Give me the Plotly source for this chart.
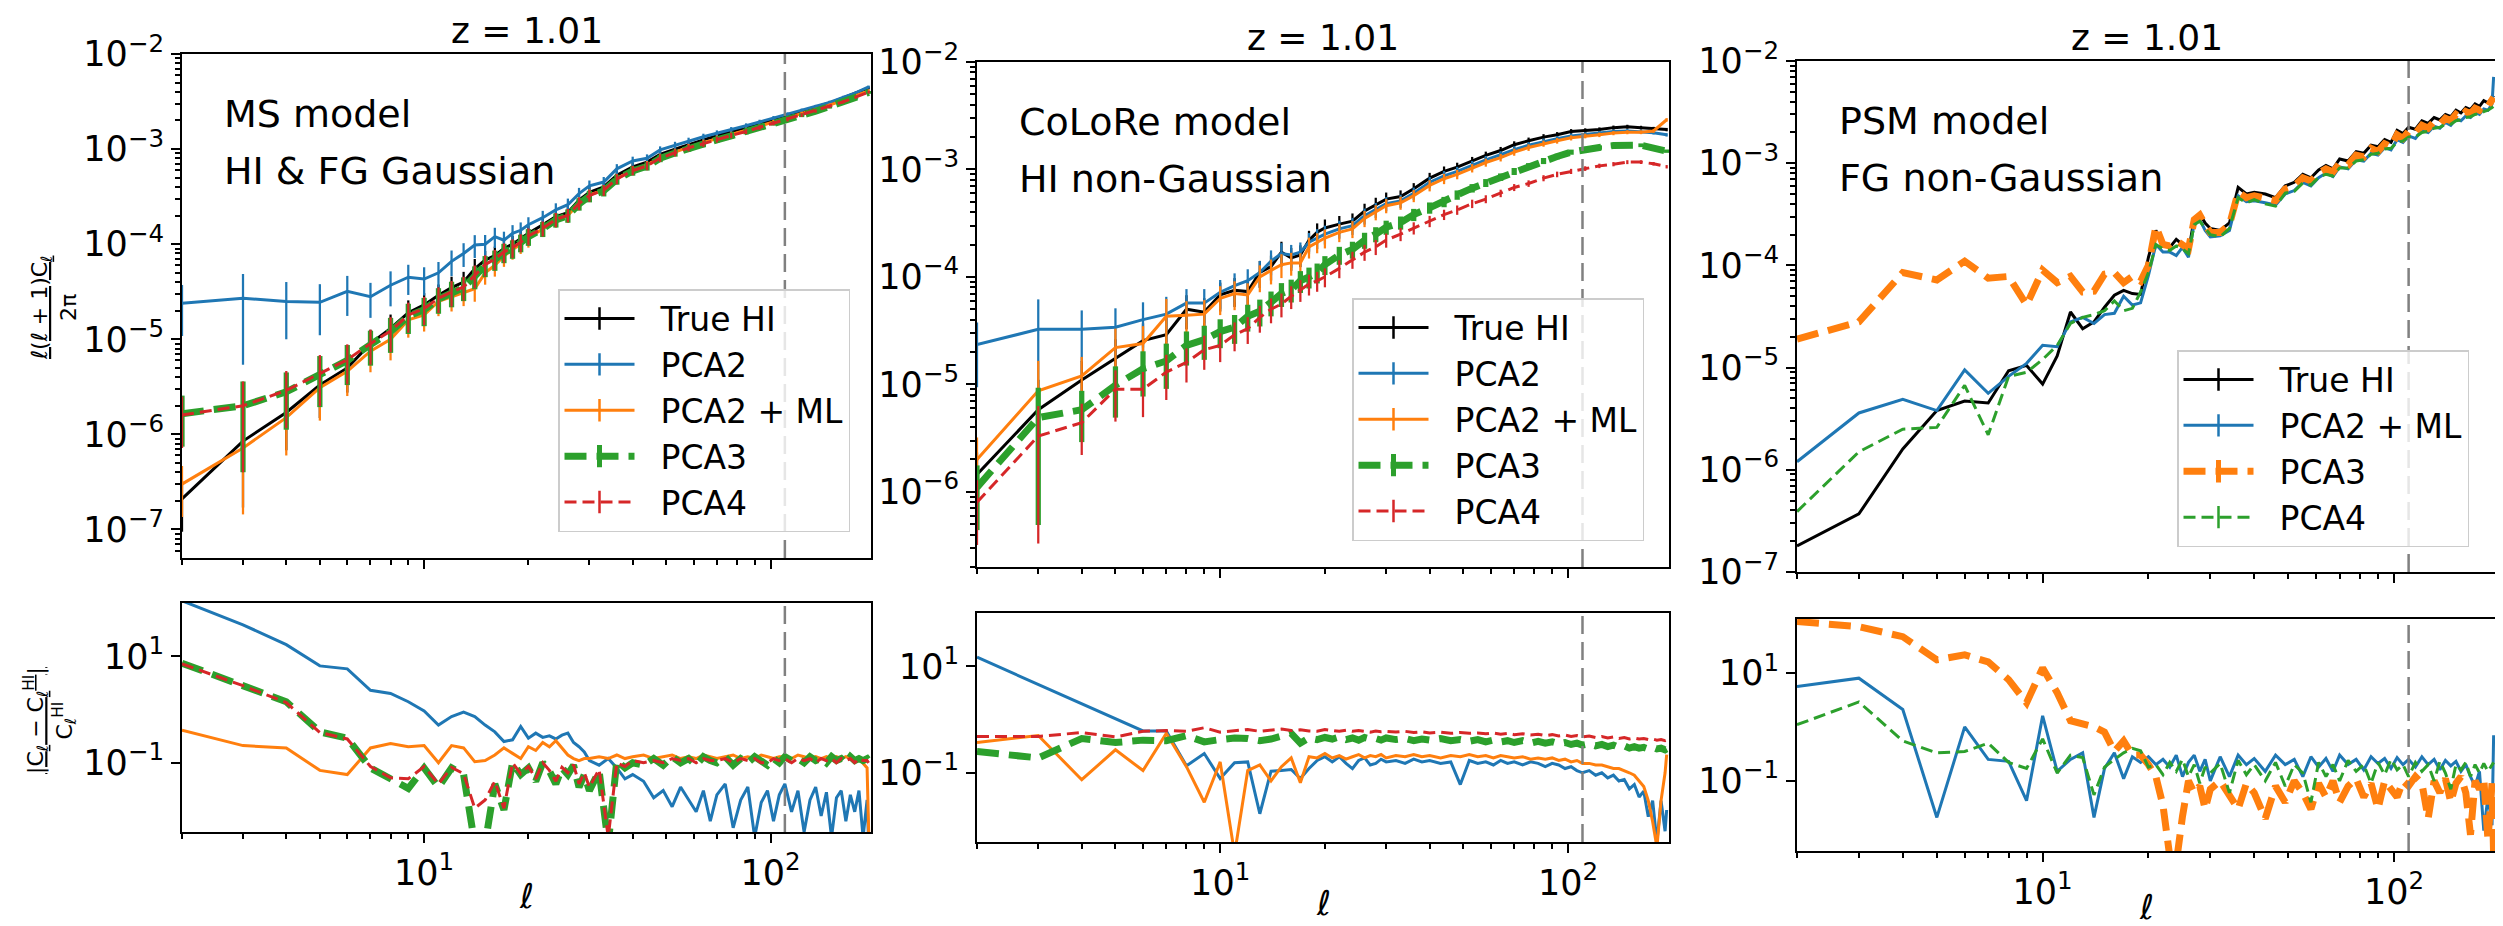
import math
import plotly.graph_objects as go

W, H = 2503, 926
FONT = "DejaVu Sans"

# ---------------- multipole grids ----------------
L_A = [2, 3, 4, 5, 6, 7, 8, 9, 10, 11,
       12, 13, 14, 15, 16, 17, 18, 19, 20,
       22, 24, 26, 28, 30,
       33, 36, 40, 44, 48,
       53, 58, 64, 70, 77,
       85, 93, 102, 112, 123,
       135, 148, 162, 176, 192]

L_B = [2, 3, 4, 5, 6, 7, 8, 9, 10, 11,
       12, 13, 14, 15, 16, 17, 18, 19, 20,
       21, 22, 23, 24, 25, 26, 27, 28, 29, 30,
       32, 34, 36, 38, 40,
       43, 46, 49, 52, 55, 58, 61, 64, 67, 70,
       74, 78, 82, 86, 90, 94, 98, 102, 106, 110,
       115, 120, 125, 130, 135, 140, 145, 150, 155, 160,
       165, 170, 175, 180, 185, 190, 192]

VLINE_L = 110

# ---------------- panel 1 (MS model) top: l(l+1)C_l/2pi ----------------
ms_true = [2.1e-7, 8.5e-7, 1.7e-6, 3.3e-6, 5.0e-6, 9.0e-6, 1.3e-5, 1.9e-5, 2.3e-5, 2.9e-5,
           3.5e-5, 4.0e-5, 5.5e-5, 6.8e-5, 7.6e-5, 9.0e-5, 1.0e-4, 1.15e-4, 1.3e-4,
           1.6e-4, 1.95e-4, 2.15e-4, 2.9e-4, 3.5e-4,
           4.0e-4, 5.3e-4, 6.5e-4, 7.3e-4, 8.8e-4,
           1.0e-3, 1.12e-3, 1.25e-3, 1.38e-3, 1.52e-3,
           1.68e-3, 1.85e-3, 2.05e-3, 2.25e-3, 2.5e-3,
           2.75e-3, 3.05e-3, 3.45e-3, 3.85e-3, 4.4e-3]
ms_pca2 = [2.4e-5, 2.7e-5, 2.5e-5, 2.45e-5, 3.2e-5, 2.8e-5, 3.7e-5, 4.5e-5, 4.3e-5, 5.0e-5,
           6.6e-5, 8.0e-5, 9.8e-5, 1.0e-4, 1.2e-4, 1.1e-4, 1.3e-4, 1.4e-4, 1.6e-4,
           1.9e-4, 2.3e-4, 2.6e-4, 3.4e-4, 4.1e-4,
           4.5e-4, 6.2e-4, 7.5e-4, 8.0e-4, 9.8e-4,
           1.1e-3, 1.22e-3, 1.35e-3, 1.47e-3, 1.6e-3,
           1.76e-3, 1.93e-3, 2.12e-3, 2.32e-3, 2.55e-3,
           2.8e-3, 3.1e-3, 3.5e-3, 3.9e-3, 4.5e-3]
ms_ml = [3.0e-7, 7.2e-7, 1.5e-6, 3.1e-6, 4.6e-6, 7.5e-6, 1.0e-5, 1.6e-5, 1.8e-5, 2.5e-5,
         2.8e-5, 3.1e-5, 3.4e-5, 5.0e-5, 6.0e-5, 7.5e-5, 8.8e-5, 1.0e-4, 1.15e-4,
         1.45e-4, 1.8e-4, 2.0e-4, 2.7e-4, 3.3e-4,
         3.7e-4, 4.9e-4, 6.0e-4, 6.8e-4, 8.2e-4,
         9.3e-4, 1.05e-3, 1.17e-3, 1.3e-3, 1.43e-3,
         1.58e-3, 1.74e-3, 1.93e-3, 2.12e-3, 2.36e-3,
         2.6e-3, 2.9e-3, 3.25e-3, 3.65e-3, 4.1e-3]
ms_pca3 = [1.65e-6, 2.0e-6, 2.8e-6, 4.3e-6, 6.0e-6, 8.8e-6, 1.2e-5, 1.75e-5, 2.05e-5, 2.65e-5,
           3.1e-5, 3.5e-5, 4.6e-5, 6.0e-5, 6.9e-5, 8.2e-5, 9.0e-5, 1.04e-4, 1.2e-4,
           1.45e-4, 1.8e-4, 2.0e-4, 2.65e-4, 3.2e-4,
           3.65e-4, 4.8e-4, 5.9e-4, 6.6e-4, 8.0e-4,
           9.1e-4, 1.02e-3, 1.13e-3, 1.25e-3, 1.38e-3,
           1.52e-3, 1.68e-3, 1.86e-3, 2.04e-3, 2.27e-3,
           2.5e-3, 2.78e-3, 3.12e-3, 3.5e-3, 3.95e-3]
ms_pca4 = [1.6e-6, 2.0e-6, 2.9e-6, 4.4e-6, 6.1e-6, 9.0e-6, 1.22e-5, 1.8e-5, 2.1e-5, 2.7e-5,
           3.15e-5, 3.55e-5, 4.7e-5, 6.1e-5, 7.0e-5, 8.3e-5, 9.2e-5, 1.05e-4, 1.22e-4,
           1.47e-4, 1.82e-4, 2.02e-4, 2.68e-4, 3.25e-4,
           3.7e-4, 4.85e-4, 5.95e-4, 6.65e-4, 8.05e-4,
           9.15e-4, 1.03e-3, 1.14e-3, 1.26e-3, 1.39e-3,
           1.53e-3, 1.69e-3, 1.87e-3, 2.05e-3, 2.28e-3,
           2.52e-3, 2.8e-3, 3.14e-3, 3.52e-3, 3.98e-3]
ms_relerr = [0.55, 0.8, 0.6, 0.55, 0.45, 0.4, 0.4, 0.35, 0.33, 0.3,
             0.3, 0.28, 0.27, 0.25, 0.24, 0.23, 0.22, 0.21, 0.2,
             0.18, 0.17, 0.16, 0.15, 0.14,
             0.13, 0.12, 0.11, 0.1, 0.09,
             0.085, 0.08, 0.075, 0.07, 0.065,
             0.06, 0.055, 0.05, 0.048, 0.045,
             0.042, 0.04, 0.038, 0.036, 0.034]

# ---------------- panel 2 (CoLoRe model) top ----------------
co_true = [1.45e-6, 5.8e-6, 1.1e-5, 1.75e-5, 2.55e-5, 2.9e-5, 5.0e-5, 4.7e-5, 6.8e-5, 7.5e-5,
           7.3e-5, 1.1e-4, 1.25e-4, 1.7e-4, 1.5e-4, 1.6e-4, 2.2e-4, 2.6e-4, 2.85e-4,
           3.1e-4, 3.3e-4, 4.1e-4, 4.7e-4, 5.3e-4,
           5.6e-4, 6.6e-4, 8.3e-4, 9.6e-4, 1.05e-3,
           1.2e-3, 1.35e-3, 1.5e-3, 1.7e-3, 1.85e-3,
           2.0e-3, 2.1e-3, 2.25e-3, 2.3e-3, 2.35e-3,
           2.45e-3, 2.5e-3, 2.45e-3, 2.4e-3, 2.35e-3]
co_pca2 = [2.35e-5, 3.25e-5, 3.25e-5, 3.4e-5, 4.0e-5, 4.5e-5, 5.7e-5, 5.7e-5, 7.2e-5, 8.3e-5,
           9.2e-5, 1.1e-4, 1.4e-4, 1.65e-4, 1.6e-4, 1.7e-4, 2.1e-4, 2.3e-4, 2.5e-4,
           2.8e-4, 3.0e-4, 3.7e-4, 4.2e-4, 4.8e-4,
           5.1e-4, 6.0e-4, 7.6e-4, 8.7e-4, 9.6e-4,
           1.1e-3, 1.23e-3, 1.37e-3, 1.53e-3, 1.68e-3,
           1.82e-3, 1.93e-3, 2.05e-3, 2.12e-3, 2.18e-3,
           2.25e-3, 2.28e-3, 2.25e-3, 2.2e-3, 2.1e-3]
co_ml = [2.0e-6, 8.7e-6, 1.2e-5, 2.2e-5, 2.4e-5, 4.3e-5, 4.4e-5, 4.5e-5, 6.3e-5, 7.0e-5,
         6.8e-5, 1.0e-4, 1.15e-4, 1.3e-4, 1.35e-4, 1.35e-4, 1.9e-4, 2.1e-4, 2.3e-4,
         2.6e-4, 2.8e-4, 3.5e-4, 4.0e-4, 4.6e-4,
         4.9e-4, 5.7e-4, 7.1e-4, 8.2e-4, 9.0e-4,
         1.03e-3, 1.16e-3, 1.29e-3, 1.45e-3, 1.6e-3,
         1.74e-3, 1.85e-3, 1.97e-3, 2.05e-3, 2.1e-3,
         2.18e-3, 2.22e-3, 2.22e-3, 2.28e-3, 2.9e-3]
co_pca3 = [1.1e-6, 4.9e-6, 5.8e-6, 9.8e-6, 1.4e-5, 1.65e-5, 2.3e-5, 2.6e-5, 3.1e-5, 3.4e-5,
           4.3e-5, 4.8e-5, 5.8e-5, 7.0e-5, 7.6e-5, 9.2e-5, 1.0e-4, 1.1e-4, 1.3e-4,
           1.6e-4, 1.8e-4, 2.2e-4, 2.5e-4, 2.9e-4,
           3.2e-4, 3.8e-4, 4.4e-4, 5.0e-4, 5.8e-4,
           6.7e-4, 7.5e-4, 8.5e-4, 9.6e-4, 1.07e-3,
           1.2e-3, 1.32e-3, 1.45e-3, 1.55e-3, 1.6e-3,
           1.67e-3, 1.7e-3, 1.68e-3, 1.58e-3, 1.48e-3]
co_pca4 = [8.0e-7, 3.3e-6, 4.4e-6, 9.0e-6, 9.0e-6, 1.3e-5, 1.6e-5, 2.1e-5, 2.3e-5, 2.9e-5,
           3.3e-5, 4.2e-5, 5.0e-5, 5.6e-5, 6.6e-5, 7.6e-5, 8.6e-5, 9.2e-5, 1.0e-4,
           1.2e-4, 1.45e-4, 1.7e-4, 1.9e-4, 2.2e-4,
           2.5e-4, 2.85e-4, 3.3e-4, 3.8e-4, 4.2e-4,
           4.8e-4, 5.3e-4, 6.0e-4, 6.8e-4, 7.4e-4,
           8.3e-4, 9.0e-4, 9.6e-4, 1.02e-3, 1.08e-3,
           1.12e-3, 1.17e-3, 1.17e-3, 1.13e-3, 1.06e-3]
co_relerr = [0.6, 0.9, 0.5, 0.5, 0.45, 0.45, 0.35, 0.35, 0.3, 0.3,
             0.28, 0.28, 0.26, 0.25, 0.24, 0.23, 0.22, 0.21, 0.2,
             0.19, 0.18, 0.17, 0.16, 0.15,
             0.14, 0.13, 0.12, 0.11, 0.1,
             0.09, 0.085, 0.08, 0.075, 0.07,
             0.065, 0.06, 0.055, 0.05, 0.048,
             0.045, 0.042, 0.04, 0.038, 0.036]

# ---------------- panel 3 (PSM model) top ----------------
psm_true = [1.8e-7, 3.7e-7, 1.6e-6, 3.8e-6, 4.7e-6, 4.5e-6, 9.3e-6, 1.05e-5, 6.9e-6, 1.3e-5,
            3.5e-5, 2.4e-5, 2.8e-5, 3.9e-5, 5.1e-5, 5.7e-5, 5.3e-5, 5.2e-5, 1.2e-4,
            2.2e-4, 1.6e-4, 1.5e-4, 1.8e-4, 1.6e-4, 1.35e-4, 2.9e-4, 3.2e-4, 2.6e-4, 2.3e-4,
            2.2e-4, 2.6e-4, 5.8e-4, 5.0e-4, 5.2e-4,
            5.0e-4, 4.6e-4, 6.0e-4, 6.5e-4, 7.8e-4, 7.2e-4, 8.6e-4, 9.5e-4, 8.8e-4, 1.1e-3,
            1.05e-3, 1.3e-3, 1.25e-3, 1.5e-3, 1.45e-3, 1.7e-3, 1.6e-3, 2.1e-3, 1.95e-3, 2.25e-3,
            2.15e-3, 2.6e-3, 2.45e-3, 2.8e-3, 2.65e-3, 3.0e-3, 2.85e-3, 3.3e-3, 3.1e-3, 3.5e-3,
            3.35e-3, 3.8e-3, 3.6e-3, 4.1e-3, 3.9e-3, 4.4e-3, 4.6e-3]
psm_ml = [1.2e-6, 3.6e-6, 4.9e-6, 3.8e-6, 9.5e-6, 5.6e-6, 8.2e-6, 1.1e-5, 1.65e-5, 1.6e-5,
          2.8e-5, 3.1e-5, 2.7e-5, 3.3e-5, 3.4e-5, 5.0e-5, 4.1e-5, 4.3e-5, 8.0e-5,
          1.6e-4, 1.35e-4, 1.35e-4, 1.25e-4, 1.5e-4, 1.2e-4, 2.6e-4, 2.8e-4, 2.2e-4, 1.9e-4,
          1.95e-4, 2.2e-4, 4.8e-4, 4.2e-4, 4.3e-4,
          4.1e-4, 3.9e-4, 5.0e-4, 5.4e-4, 6.5e-4, 6.0e-4, 7.2e-4, 8.0e-4, 7.4e-4, 9.2e-4,
          8.8e-4, 1.08e-3, 1.05e-3, 1.25e-3, 1.2e-3, 1.42e-3, 1.35e-3, 1.7e-3, 1.6e-3, 1.85e-3,
          1.75e-3, 2.1e-3, 2.0e-3, 2.3e-3, 2.2e-3, 2.5e-3, 2.35e-3, 2.7e-3, 2.6e-3, 2.9e-3,
          2.8e-3, 3.15e-3, 3.0e-3, 3.4e-3, 3.3e-3, 3.8e-3, 7.0e-3]
psm_pca3 = [1.9e-5, 2.8e-5, 8.5e-5, 7.2e-5, 1.1e-4, 7.5e-5, 7.8e-5, 4.1e-5, 9.0e-5, 6.8e-5,
            7.8e-5, 5.5e-5, 5.6e-5, 8.2e-5, 8.5e-5, 6.8e-5, 7.8e-5, 7.0e-5, 1.0e-4,
            2.4e-4, 1.6e-4, 1.55e-4, 1.75e-4, 1.55e-4, 1.45e-4, 2.8e-4, 3.1e-4, 2.5e-4, 2.1e-4,
            2.1e-4, 2.5e-4, 5.2e-4, 4.6e-4, 4.8e-4,
            4.6e-4, 4.3e-4, 5.6e-4, 6.0e-4, 7.2e-4, 6.7e-4, 8.0e-4, 8.8e-4, 8.2e-4, 1.0e-3,
            9.6e-4, 1.2e-3, 1.15e-3, 1.4e-3, 1.3e-3, 1.55e-3, 1.45e-3, 1.9e-3, 1.75e-3, 2.05e-3,
            1.95e-3, 2.35e-3, 2.2e-3, 2.55e-3, 2.4e-3, 2.75e-3, 2.6e-3, 3.0e-3, 2.8e-3, 3.2e-3,
            3.05e-3, 3.45e-3, 3.3e-3, 3.75e-3, 3.6e-3, 4.1e-3, 4.4e-3]
psm_pca4 = [3.9e-7, 1.5e-6, 2.5e-6, 2.6e-6, 6.7e-6, 2.2e-6, 8.2e-6, 9.0e-6, 1.2e-5, 1.65e-5,
            2.7e-5, 3.1e-5, 3.3e-5, 3.6e-5, 4.5e-5, 3.6e-5, 3.8e-5, 5.5e-5, 8.5e-5,
            1.6e-4, 1.45e-4, 1.4e-4, 1.55e-4, 1.45e-4, 1.3e-4, 2.5e-4, 2.7e-4, 2.3e-4, 2.0e-4,
            1.9e-4, 2.3e-4, 4.6e-4, 4.1e-4, 4.4e-4,
            4.0e-4, 3.8e-4, 5.1e-4, 5.3e-4, 6.4e-4, 6.1e-4, 7.3e-4, 7.8e-4, 7.5e-4, 9.0e-4,
            9.0e-4, 1.05e-3, 1.08e-3, 1.22e-3, 1.25e-3, 1.38e-3, 1.4e-3, 1.6e-3, 1.65e-3, 1.8e-3,
            1.8e-3, 2.0e-3, 2.05e-3, 2.2e-3, 2.25e-3, 2.4e-3, 2.4e-3, 2.6e-3, 2.65e-3, 2.8e-3,
            2.85e-3, 3.0e-3, 3.05e-3, 3.2e-3, 3.3e-3, 3.5e-3, 3.6e-3]

# ---------------- bottom row: |C_l - C_l^HI| / C_l^HI ----------------
ms_r_pca2 = [110, 39, 16.5, 6.6, 5.8, 2.3, 2.0, 1.4, 0.94, 0.51,
             0.74, 0.89, 0.74, 0.51, 0.38, 0.25, 0.27, 0.48, 0.29,
             0.36, 0.3, 0.32, 0.28, 0.33, 0.36, 0.24, 0.2, 0.16, 0.11,
             0.09, 0.12, 0.08, 0.05, 0.06,
             0.045, 0.022, 0.03, 0.015, 0.035, 0.02, 0.012, 0.03, 0.008, 0.025,
             0.04, 0.006, 0.02, 0.035, 0.004, 0.018, 0.03, 0.008, 0.025, 0.04,
             0.012, 0.03, 0.005, 0.02, 0.035, 0.01, 0.028, 0.004, 0.022, 0.03,
             0.008, 0.025, 0.012, 0.03, 0.004, 0.02, 0.003]
ms_r_ml = [0.41, 0.21, 0.19, 0.072, 0.06, 0.19, 0.23, 0.2, 0.21, 0.1,
           0.21, 0.19, 0.105, 0.11, 0.14, 0.19, 0.15, 0.12, 0.2,
           0.17, 0.24, 0.2, 0.26, 0.19, 0.14, 0.12, 0.11, 0.12, 0.12,
           0.13, 0.12, 0.14, 0.12, 0.13,
           0.14, 0.12, 0.13, 0.14, 0.12, 0.13, 0.12, 0.14, 0.13, 0.12,
           0.13, 0.14, 0.12, 0.13, 0.12, 0.14, 0.13, 0.12, 0.13, 0.13,
           0.12, 0.14, 0.13, 0.12, 0.13, 0.12, 0.13, 0.12, 0.13, 0.12,
           0.13, 0.12, 0.11, 0.12, 0.1, 0.08, 0.005]
ms_r_pca3 = [7.4, 2.9, 1.4, 0.38, 0.29, 0.08, 0.05, 0.033, 0.08, 0.035,
             0.08, 0.06, 0.003, 0.003, 0.04, 0.013, 0.1, 0.06, 0.08,
             0.045, 0.1, 0.07, 0.04, 0.08, 0.06, 0.09, 0.035, 0.06, 0.03,
             0.07, 0.003, 0.11, 0.08, 0.1,
             0.09, 0.12, 0.09, 0.13, 0.1, 0.12, 0.09, 0.13, 0.11, 0.1,
             0.13, 0.09, 0.12, 0.1, 0.13, 0.11, 0.09, 0.12, 0.1, 0.13,
             0.11, 0.12, 0.1, 0.13, 0.11, 0.12, 0.1, 0.13, 0.11, 0.12,
             0.1, 0.13, 0.11, 0.12, 0.11, 0.12, 0.11]
ms_r_pca4 = [7.2, 2.8, 1.35, 0.37, 0.28, 0.085, 0.052, 0.05, 0.085, 0.04,
             0.082, 0.062, 0.014, 0.02, 0.045, 0.014, 0.1, 0.062, 0.085,
             0.05, 0.1, 0.072, 0.045, 0.082, 0.065, 0.092, 0.04, 0.065, 0.035,
             0.075, 0.004, 0.1, 0.085, 0.11,
             0.1, 0.11, 0.1, 0.12, 0.11, 0.12, 0.1, 0.12, 0.11, 0.11,
             0.12, 0.1, 0.12, 0.11, 0.12, 0.1, 0.1, 0.12, 0.11, 0.12,
             0.1, 0.12, 0.11, 0.12, 0.1, 0.12, 0.11, 0.12, 0.1, 0.12,
             0.11, 0.12, 0.1, 0.12, 0.11, 0.11, 0.1]

co_r_pca2 = [14.8, 4.6, 2.0, 1.03, 0.61, 0.61, 0.135, 0.23, 0.078, 0.155,
             0.16, 0.017, 0.107, 0.11, 0.115, 0.078, 0.12, 0.17, 0.2,
             0.16, 0.2, 0.15, 0.12, 0.17, 0.19, 0.14, 0.15, 0.18, 0.16,
             0.17, 0.15, 0.18, 0.16, 0.17,
             0.15, 0.16, 0.06, 0.17, 0.15, 0.16, 0.14, 0.17, 0.15, 0.16,
             0.14, 0.16, 0.15, 0.13, 0.15, 0.14, 0.12, 0.13, 0.11, 0.1,
             0.11, 0.09, 0.1, 0.08, 0.09, 0.07, 0.075, 0.05, 0.06, 0.035,
             0.045, 0.015, 0.03, 0.005, 0.03, 0.008, 0.02]
co_r_ml = [0.37, 0.5, 0.074, 0.27, 0.11, 0.55, 0.13, 0.028, 0.16, 0.003,
           0.11, 0.14, 0.07, 0.13, 0.19, 0.065, 0.2, 0.19, 0.23,
           0.19, 0.21, 0.18, 0.2, 0.22, 0.19, 0.21, 0.2, 0.22, 0.19,
           0.21, 0.2, 0.22, 0.2, 0.21,
           0.19, 0.21, 0.2, 0.22, 0.2, 0.21, 0.19, 0.21, 0.2, 0.19,
           0.2, 0.18, 0.19, 0.18, 0.19, 0.17, 0.18, 0.16, 0.17, 0.15,
           0.15, 0.14, 0.14, 0.13, 0.12, 0.12, 0.11, 0.1, 0.09, 0.07,
           0.055, 0.03, 0.012, 0.004, 0.03, 0.1, 0.22]
co_r_pca3 = [0.25, 0.19, 0.44, 0.37, 0.41, 0.4, 0.5, 0.38, 0.42, 0.45,
             0.44, 0.4, 0.43, 0.47, 0.55, 0.36, 0.45, 0.42, 0.46,
             0.43, 0.47, 0.42, 0.45, 0.41, 0.46, 0.43, 0.44, 0.41, 0.45,
             0.42, 0.44, 0.4, 0.43, 0.41,
             0.44, 0.4, 0.42, 0.39, 0.42, 0.38, 0.41, 0.38, 0.4, 0.37,
             0.4, 0.36, 0.39, 0.36, 0.38, 0.35, 0.37, 0.34, 0.36, 0.33,
             0.35, 0.32, 0.34, 0.31, 0.33, 0.3, 0.32, 0.29, 0.31, 0.29,
             0.3, 0.28, 0.3, 0.28, 0.29, 0.27, 0.28]
co_r_pca4 = [0.48, 0.48, 0.57, 0.47, 0.6, 0.62, 0.6, 0.7, 0.58, 0.62,
             0.65, 0.6, 0.62, 0.66, 0.62, 0.64, 0.61, 0.6, 0.65,
             0.62, 0.6, 0.63, 0.6, 0.62, 0.6, 0.58, 0.61, 0.59, 0.6,
             0.58, 0.6, 0.57, 0.59, 0.56,
             0.58, 0.55, 0.57, 0.55, 0.56, 0.54, 0.56, 0.53, 0.55, 0.52,
             0.54, 0.51, 0.53, 0.5, 0.52, 0.49, 0.51, 0.48, 0.5, 0.47,
             0.49, 0.46, 0.48, 0.45, 0.47, 0.44, 0.46, 0.43, 0.45, 0.43,
             0.44, 0.42, 0.43, 0.41, 0.42, 0.4, 0.41]

psm_r_ml = [5.6, 8.0, 2.1, 0.021, 1.0, 0.25, 0.23, 0.043, 1.6, 0.15,
            0.25, 0.33, 0.021, 0.17, 0.33, 0.11, 0.28, 0.22, 0.28,
            0.2, 0.25, 0.18, 0.3, 0.12, 0.22, 0.3, 0.15, 0.25, 0.1,
            0.28, 0.12, 0.3, 0.2, 0.26,
            0.15, 0.3, 0.2, 0.25, 0.12, 0.28, 0.18, 0.26, 0.15, 0.3,
            0.2, 0.25, 0.16, 0.28, 0.21, 0.26, 0.17, 0.27, 0.2, 0.25,
            0.18, 0.28, 0.2, 0.25, 0.16, 0.24, 0.19, 0.23, 0.15, 0.2,
            0.12, 0.08, 0.15, 0.012, 0.05, 0.015, 0.7]
psm_r_pca3 = [90, 72, 47, 17.5, 21.6, 16, 7.5, 2.8, 12.4, 4.3,
              1.3, 1.1, 1.0, 0.8, 0.35, 0.55, 0.3, 0.3, 0.2,
              0.12, 0.035, 0.004, 0.003, 0.022, 0.1, 0.06, 0.08, 0.03, 0.07,
              0.1, 0.05, 0.03, 0.09, 0.06,
              0.02, 0.08, 0.04, 0.1, 0.06, 0.03, 0.09, 0.05, 0.1, 0.04,
              0.08, 0.11, 0.05, 0.09, 0.03, 0.1, 0.07, 0.05, 0.1, 0.08,
              0.12, 0.09, 0.02, 0.1, 0.06, 0.11, 0.04, 0.09, 0.12, 0.06,
              0.01, 0.1, 0.07, 0.11, 0.008, 0.09, 0.004]
psm_r_pca4 = [1.1, 2.9, 0.55, 0.33, 0.35, 0.5, 0.22, 0.17, 0.6, 0.14,
              0.3, 0.27, 0.055, 0.18, 0.25, 0.33, 0.4, 0.36, 0.18,
              0.2, 0.13, 0.22, 0.15, 0.25, 0.12, 0.2, 0.09, 0.18, 0.14,
              0.21, 0.06, 0.24, 0.13, 0.2,
              0.1, 0.22, 0.08, 0.2, 0.14, 0.04, 0.22, 0.12, 0.2, 0.1,
              0.24, 0.15, 0.2, 0.09, 0.22, 0.13, 0.25, 0.16, 0.2, 0.12,
              0.22, 0.15, 0.2, 0.1, 0.23, 0.14, 0.07, 0.2, 0.16, 0.22,
              0.12, 0.2, 0.14, 0.21, 0.15, 0.19, 0.22]

# ---------------- text ----------------
PANEL_TITLE = "z = 1.01"
MODEL_TEXT = [["MS model", "HI & FG Gaussian"],
              ["CoLoRe model", "HI non-Gaussian"],
              ["PSM model", "FG non-Gaussian"]]

# ---------------- styles ----------------
BLUE, ORANGE, GREEN, RED = "#1f77b4", "#ff7f0e", "#2ca02c", "#d62728"
THIN = 3
THICK = 7
DASH_THICK = "22px,10px"
DASH_THIN = "12px,6px"

# ---------------- geometry (pixels) ----------------
COLS = [(174, 863), (969, 1661), (1789, 2488)]
TOPS = [(46, 550), (54, 559), (53, 564)]
BOTS = [(595, 824), (605, 834), (611, 843)]
TOP_YR = [[-7.3, -2], [-6.7, -2], [-7.0, -2]]
BOT_YR = [-2.3, 2.0]
X_RANGE = [math.log10(2), math.log10(195)]

def dx(a, b):
    return [a / W, b / W]

def dy(a, b):
    return [1 - b / H, 1 - a / H]

fig = go.Figure()

def add(x, y, name, color, width, dash, panel, relerr=None):
    kw = {}
    if relerr is not None:
        kw["error_y"] = dict(type="data", symmetric=True,
                             array=[v * f for v, f in zip(y, relerr)],
                             color=color, thickness=max(2.0, width * 0.75), width=0)
    axn = "" if panel == 1 else str(panel)
    fig.add_trace(go.Scatter(
        x=x, y=y, mode="lines", name=name,
        line=dict(color=color, width=width, dash=dash),
        xaxis="x" + axn, yaxis="y" + axn,
        showlegend=False, hoverinfo="x+y+name", **kw))

NBSP = "\u00a0\u00a0"

def add_key(name, color, width, dash, panel, legend):
    # legend-only entry: line with a vertical error-bar tick, like the reference keys
    axn = "" if panel == 1 else str(panel)
    fig.add_trace(go.Scatter(
        x=[None], y=[None], mode="lines+markers", name=NBSP + name,
        line=dict(color=color, width=width, dash=dash),
        marker=dict(symbol="line-ns", size=16, color=color,
                    line=dict(color=color, width=max(2.5, width * 0.8))),
        xaxis="x" + axn, yaxis="y" + axn,
        showlegend=True, legend=legend, legendgroup=f"{name}-{panel}"))

# top panels
add(L_A, ms_true, "True HI", "black", THIN, "solid", 1, ms_relerr)
add(L_A, ms_pca2, "PCA2", BLUE, THIN, "solid", 1, ms_relerr)
add(L_A, ms_ml, "PCA2 + ML", ORANGE, THIN, "solid", 1, ms_relerr)
add(L_A, ms_pca3, "PCA3", GREEN, THICK, DASH_THICK, 1, ms_relerr)
add(L_A, ms_pca4, "PCA4", RED, THIN, DASH_THIN, 1, ms_relerr)

add(L_A, co_true, "True HI", "black", THIN, "solid", 2, co_relerr)
add(L_A, co_pca2, "PCA2", BLUE, THIN, "solid", 2, co_relerr)
add(L_A, co_ml, "PCA2 + ML", ORANGE, THIN, "solid", 2, co_relerr)
add(L_A, co_pca3, "PCA3", GREEN, THICK, DASH_THICK, 2, co_relerr)
add(L_A, co_pca4, "PCA4", RED, THIN, DASH_THIN, 2, co_relerr)

add(L_B, psm_true, "True HI", "black", THIN, "solid", 3)
add(L_B, psm_ml, "PCA2 + ML", BLUE, THIN, "solid", 3)
add(L_B, psm_pca3, "PCA3", ORANGE, THICK, DASH_THICK, 3)
add(L_B, psm_pca4, "PCA4", GREEN, THIN, DASH_THIN, 3)

# bottom panels
add(L_B, ms_r_pca2, "PCA2", BLUE, THIN, "solid", 4)
add(L_B, ms_r_ml, "PCA2 + ML", ORANGE, THIN, "solid", 4)
add(L_B, ms_r_pca3, "PCA3", GREEN, THICK, DASH_THICK, 4)
add(L_B, ms_r_pca4, "PCA4", RED, THIN, DASH_THIN, 4)

add(L_B, co_r_pca2, "PCA2", BLUE, THIN, "solid", 5)
add(L_B, co_r_ml, "PCA2 + ML", ORANGE, THIN, "solid", 5)
add(L_B, co_r_pca3, "PCA3", GREEN, THICK, DASH_THICK, 5)
add(L_B, co_r_pca4, "PCA4", RED, THIN, DASH_THIN, 5)

add(L_B, psm_r_ml, "PCA2 + ML", BLUE, THIN, "solid", 6)
add(L_B, psm_r_pca3, "PCA3", ORANGE, THICK, DASH_THICK, 6)
add(L_B, psm_r_pca4, "PCA4", GREEN, THIN, DASH_THIN, 6)

# legend keys
for p, lg in [(1, "legend"), (2, "legend2")]:
    add_key("True HI", "black", THIN, "solid", p, lg)
    add_key("PCA2", BLUE, THIN, "solid", p, lg)
    add_key("PCA2 + ML", ORANGE, THIN, "solid", p, lg)
    add_key("PCA3", GREEN, THICK, DASH_THICK, p, lg)
    add_key("PCA4", RED, THIN, DASH_THIN, p, lg)
add_key("True HI", "black", THIN, "solid", 3, "legend3")
add_key("PCA2 + ML", BLUE, THIN, "solid", 3, "legend3")
add_key("PCA3", ORANGE, THICK, DASH_THICK, 3, "legend3")
add_key("PCA4", GREEN, THIN, DASH_THIN, 3, "legend3")

# ---------------- axes ----------------
X_MAJOR = [10, 100]
X_MAJOR_TXT = ["10<sup>1</sup>", "10<sup>2</sup>"]
X_MINOR = [2, 3, 4, 5, 6, 7, 8, 9, 20, 30, 40, 50, 60, 70, 80, 90, 200]
YT_MAJOR = [1e-7, 1e-6, 1e-5, 1e-4, 1e-3, 1e-2]
YT_TXT = ["10<sup>\u22127</sup>", "10<sup>\u22126</sup>", "10<sup>\u22125</sup>",
          "10<sup>\u22124</sup>", "10<sup>\u22123</sup>", "10<sup>\u22122</sup>"]
YT_MINOR = [m * 10.0 ** k for k in range(-8, -2) for m in range(2, 10)]
YB_MAJOR = [0.1, 10]
YB_TXT = ["10<sup>\u22121</sup>", "10<sup>1</sup>"]

TICKFONT = dict(family=FONT, size=35, color="black")

def common_axis():
    return dict(type="log", showline=True, linecolor="black", linewidth=2, mirror=True,
                ticks="outside", ticklen=9, tickwidth=2, tickcolor="black",
                tickmode="array", tickfont=TICKFONT, showgrid=False, zeroline=False,
                automargin=False)

layout_axes = {}
for i in range(3):
    top_n = i + 1
    bot_n = i + 4
    for n, (ya, yb), is_top in [(top_n, TOPS[i], True), (bot_n, BOTS[i], False)]:
        xa = common_axis()
        xa.update(domain=dx(*COLS[i]), range=X_RANGE, anchor="y" + ("" if n == 1 else str(n)),
                  tickvals=X_MAJOR, ticktext=X_MAJOR_TXT, showticklabels=not is_top,
                  minor=dict(tickmode="array", tickvals=X_MINOR, ticks="outside", ticklen=5,
                             tickwidth=1.5, tickcolor="black", showgrid=False))
        yax = common_axis()
        yax.update(domain=dy(ya, yb), anchor="x" + ("" if n == 1 else str(n)))
        if is_top:
            yax.update(range=TOP_YR[i], tickvals=YT_MAJOR, ticktext=YT_TXT,
                       minor=dict(tickmode="array", tickvals=YT_MINOR, ticks="outside",
                                  ticklen=5, tickwidth=1.5, tickcolor="black", showgrid=False))
        else:
            yax.update(range=BOT_YR, tickvals=YB_MAJOR, ticktext=YB_TXT)
        key = "" if n == 1 else str(n)
        layout_axes["xaxis" + key] = xa
        layout_axes["yaxis" + key] = yax

# ---------------- vertical dashed lines at l = 110 ----------------
shapes = []
for n in range(1, 7):
    key = "" if n == 1 else str(n)
    shapes.append(dict(type="line", xref="x" + key, yref="y" + key + " domain",
                       x0=VLINE_L, x1=VLINE_L, y0=0, y1=1,
                       line=dict(color="#808080", width=2.5, dash="18px,8px"), layer="above"))

# ---------------- annotations ----------------
ann = []
TITLE_Y = [22, 30, 30]
XLAB_Y = [888, 895, 899]
for i in range(3):
    cx = (COLS[i][0] + COLS[i][1]) / 2
    ann.append(dict(text=PANEL_TITLE, x=cx / W, y=1 - TITLE_Y[i] / H, xref="paper", yref="paper",
                    xanchor="center", yanchor="middle", showarrow=False,
                    font=dict(family=FONT, size=36, color="black")))
    tx = COLS[i][0] + 40
    for j, line in enumerate(MODEL_TEXT[i]):
        ann.append(dict(text=line, x=tx / W, y=1 - (TOPS[i][0] + 60 + 57 * j) / H,
                        xref="paper", yref="paper", xanchor="left", yanchor="middle",
                        showarrow=False, font=dict(family=FONT, size=38, color="black")))
    ann.append(dict(text="<i>\u2113</i>", x=cx / W, y=1 - XLAB_Y[i] / H, xref="paper", yref="paper",
                    xanchor="center", yanchor="middle", showarrow=False,
                    font=dict(family=FONT, size=34, color="black")))

ann.append(dict(text="<u>\u2113(\u2113 + 1)C<sub>\u2113</sub></u><br>2\u03c0",
                x=46 / W, y=1 - 300 / H, xref="paper", yref="paper", textangle=-90,
                xanchor="center", yanchor="middle", showarrow=False, align="center",
                font=dict(family=FONT, size=22, color="black")))
ann.append(dict(text="<u>|C<sub>\u2113</sub> \u2212 C<sub>\u2113</sub><sup>HI</sup>|</u><br>C<sub>\u2113</sub><sup>HI</sup>",
                x=42 / W, y=1 - 712 / H, xref="paper", yref="paper", textangle=-90,
                xanchor="center", yanchor="middle", showarrow=False, align="center",
                font=dict(family=FONT, size=22, color="black")))

# ---------------- legends ----------------
def legend_cfg(xp, yp):
    return dict(x=xp / W, y=1 - yp / H, xref="paper", yref="paper",
                xanchor="left", yanchor="top",
                bgcolor="rgba(255,255,255,0.8)", bordercolor="#cccccc", borderwidth=1.5,
                font=dict(family=FONT, size=33, color="black"),
                itemwidth=70, tracegroupgap=0)

fig.update_layout(
    width=W, height=H, autosize=False,
    margin=dict(l=0, r=0, t=0, b=0, autoexpand=False),
    paper_bgcolor="white", plot_bgcolor="white",
    font=dict(family=FONT, color="black"),
    legend=legend_cfg(550, 281),
    legend2=legend_cfg(1344, 290),
    legend3=legend_cfg(2169, 342),
    shapes=shapes,
    annotations=ann,
    **layout_axes,
)

fig.write_html("out.html")
